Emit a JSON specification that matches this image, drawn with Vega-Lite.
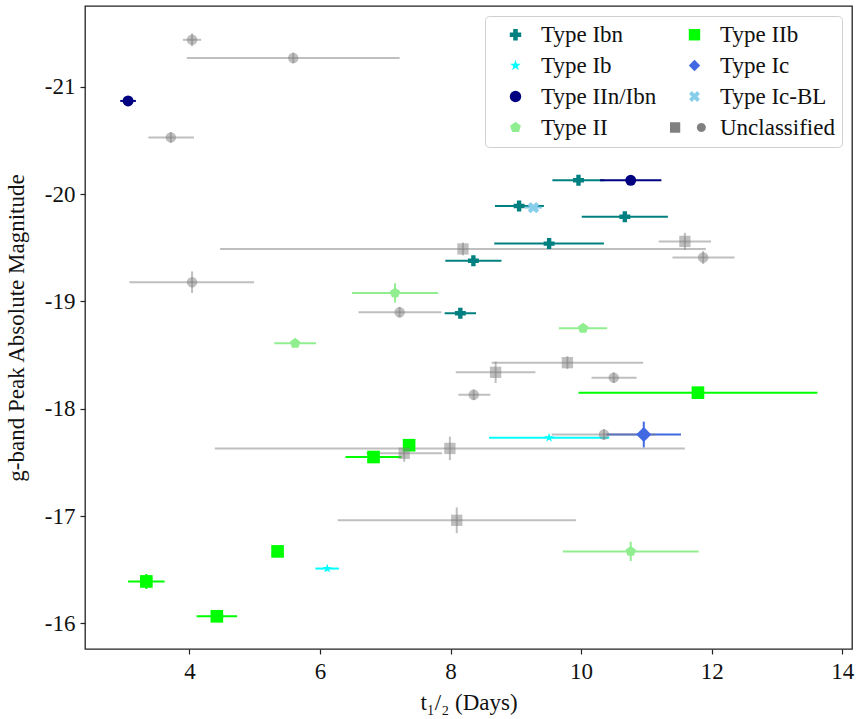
{
  "$schema": "https://vega.github.io/schema/vega-lite/v6.json",
  "width": 767,
  "height": 643,
  "autosize": {"type": "none"},
  "padding": {"left": 85, "top": 6, "right": 5, "bottom": 70},
  "config": {
    "font": "Liberation Serif",
    "view": {"stroke": "#222222", "strokeWidth": 1.3},
    "axis": {"grid": false, "domain": false, "tickColor": "#222222", "tickSize": 5, "tickWidth": 1.2, "labelFont": "Liberation Serif", "labelFontSize": 23, "labelColor": "#111111", "titleFont": "Liberation Serif", "titleFontSize": 23, "titleFontWeight": "normal", "titleColor": "#111111"},
    "legend": {"orient": "top-right", "offset": 10, "columns": 2, "padding": 7, "symbolOffset": 12, "strokeColor": "#d0d0d0", "fillColor": "white", "cornerRadius": 4, "labelFont": "Liberation Serif", "labelFontSize": 23, "labelColor": "#111111", "labelOffset": 14, "rowPadding": 7, "columnPadding": 12, "symbolStrokeWidth": 0, "symbolSize": 130, "labelLimit": 300}
  },
  "data": {"values": [
    {"type": "Type Ibn", "sub": "", "t": 9.96, "tlo": 9.56, "thi": 10.36, "mag": -20.13},
    {"type": "Type Ibn", "sub": "", "t": 9.05, "tlo": 8.68, "thi": 9.43, "mag": -19.89},
    {"type": "Type Ibn", "sub": "", "t": 10.67, "tlo": 10.01, "thi": 11.33, "mag": -19.79},
    {"type": "Type Ibn", "sub": "", "t": 9.51, "tlo": 8.67, "thi": 10.35, "mag": -19.54},
    {"type": "Type Ibn", "sub": "", "t": 8.35, "tlo": 7.92, "thi": 8.78, "mag": -19.38},
    {"type": "Type Ibn", "sub": "", "t": 8.15, "tlo": 7.91, "thi": 8.39, "mag": -18.89},
    {"type": "Type IIn/Ibn", "sub": "", "t": 3.06, "tlo": 2.94, "thi": 3.18, "mag": -20.87},
    {"type": "Type IIn/Ibn", "sub": "", "t": 10.76, "tlo": 10.29, "thi": 11.23, "mag": -20.13},
    {"type": "Type Ic-BL", "sub": "", "t": 9.27, "tlo": 9.14, "thi": 9.40, "mag": -19.875},
    {"type": "Type II", "sub": "", "t": 7.15, "tlo": 6.49, "thi": 7.81, "mag": -19.08, "mlo": -19.17, "mhi": -18.99},
    {"type": "Type II", "sub": "", "t": 10.03, "tlo": 9.66, "thi": 10.40, "mag": -18.75},
    {"type": "Type II", "sub": "", "t": 5.62, "tlo": 5.30, "thi": 5.94, "mag": -18.61},
    {"type": "Type II", "sub": "", "t": 10.76, "tlo": 9.72, "thi": 11.80, "mag": -16.67, "mlo": -16.76, "mhi": -16.58},
    {"type": "Type IIb", "sub": "", "t": 11.79, "tlo": 9.96, "thi": 13.62, "mag": -18.15},
    {"type": "Type IIb", "sub": "", "t": 7.365, "mag": -17.66},
    {"type": "Type IIb", "sub": "", "t": 6.82, "tlo": 6.39, "thi": 7.25, "mag": -17.55},
    {"type": "Type IIb", "sub": "", "t": 5.35, "mag": -16.67},
    {"type": "Type IIb", "sub": "", "t": 3.34, "tlo": 3.06, "thi": 3.62, "mag": -16.39, "mlo": -16.46, "mhi": -16.32},
    {"type": "Type IIb", "sub": "", "t": 4.42, "tlo": 4.11, "thi": 4.73, "mag": -16.065},
    {"type": "Type Ib", "sub": "", "t": 9.51, "tlo": 8.59, "thi": 10.43, "mag": -17.73},
    {"type": "Type Ib", "sub": "", "t": 6.11, "tlo": 5.93, "thi": 6.29, "mag": -16.51},
    {"type": "Type Ic", "sub": "", "t": 10.96, "tlo": 10.39, "thi": 11.53, "mag": -17.76, "mlo": -17.88, "mhi": -17.64},
    {"type": "Unclassified", "sub": "B", "t": 4.04, "tlo": 3.90, "thi": 4.18, "mag": -21.44, "mlo": -21.5, "mhi": -21.38},
    {"type": "Unclassified", "sub": "B", "t": 5.59, "tlo": 3.96, "thi": 7.22, "mag": -21.27, "mlo": -21.32, "mhi": -21.22},
    {"type": "Unclassified", "sub": "B", "t": 3.715, "tlo": 3.37, "thi": 4.07, "mag": -20.53, "mlo": -20.58, "mhi": -20.48},
    {"type": "Unclassified", "sub": "B", "t": 4.04, "tlo": 3.08, "thi": 4.99, "mag": -19.18, "mlo": -19.28, "mhi": -19.08},
    {"type": "Unclassified", "sub": "B", "t": 7.22, "tlo": 6.59, "thi": 7.86, "mag": -18.90, "mlo": -18.95, "mhi": -18.85},
    {"type": "Unclassified", "sub": "B", "t": 11.87, "tlo": 11.40, "thi": 12.35, "mag": -19.41, "mlo": -19.47, "mhi": -19.35},
    {"type": "Unclassified", "sub": "B", "t": 10.50, "tlo": 10.16, "thi": 10.85, "mag": -18.29, "mlo": -18.34, "mhi": -18.24},
    {"type": "Unclassified", "sub": "B", "t": 8.355, "tlo": 8.12, "thi": 8.61, "mag": -18.13, "mlo": -18.18, "mhi": -18.08},
    {"type": "Unclassified", "sub": "B", "t": 10.35, "tlo": 9.55, "thi": 11.15, "mag": -17.76, "mlo": -17.81, "mhi": -17.71},
    {"type": "Unclassified", "sub": "A", "t": 8.19, "tlo": 4.47, "thi": 11.91, "mag": -19.49, "mlo": -19.55, "mhi": -19.43},
    {"type": "Unclassified", "sub": "A", "t": 11.59, "tlo": 11.19, "thi": 11.99, "mag": -19.56, "mlo": -19.64, "mhi": -19.48},
    {"type": "Unclassified", "sub": "A", "t": 9.79, "tlo": 8.63, "thi": 10.95, "mag": -18.43, "mlo": -18.49, "mhi": -18.37},
    {"type": "Unclassified", "sub": "A", "t": 8.69, "tlo": 8.08, "thi": 9.30, "mag": -18.34, "mlo": -18.44, "mhi": -18.24},
    {"type": "Unclassified", "sub": "A", "t": 7.99, "tlo": 4.39, "thi": 11.59, "mag": -17.63, "mlo": -17.74, "mhi": -17.52},
    {"type": "Unclassified", "sub": "A", "t": 7.29, "tlo": 6.71, "thi": 7.87, "mag": -17.585, "mlo": -17.665, "mhi": -17.505},
    {"type": "Unclassified", "sub": "A", "t": 8.095, "tlo": 6.27, "thi": 9.92, "mag": -16.96, "mlo": -17.08, "mhi": -16.84}
  ]},
  "layer": [
    {
      "transform": [{"filter": "isValid(datum.tlo)"}],
      "mark": {"type": "rule", "strokeWidth": 2},
      "encoding": {
        "x": {"field": "tlo", "type": "quantitative", "title": "t₁/₂ (Days)", "scale": {"domain": [2.4, 14.15], "nice": false, "zero": false}, "axis": {"values": [4, 6, 8, 10, 12, 14], "format": "d", "labelPadding": 6, "titlePadding": 8}},
        "x2": {"field": "thi"},
        "y": {"field": "mag", "type": "quantitative", "title": "g-band Peak Absolute Magnitude", "scale": {"domain": [-21.755, -15.76], "reverse": true, "nice": false, "zero": false}, "axis": {"values": [-21, -20, -19, -18, -17, -16], "labelExpr": "datum.value + ''", "labelPadding": 5, "titlePadding": 16}},
        "color": {"field": "type", "type": "nominal", "scale": {"domain": ["Type Ibn", "Type Ib", "Type IIn/Ibn", "Type II", "Type IIb", "Type Ic", "Type Ic-BL", "Unclassified"], "range": ["#008080", "#00ffff", "#000080", "#90ee90", "#00ff00", "#4169e1", "#87ceeb", "#808080"]}, "legend": {"title": null, "encode": {"symbols": {"update": {"fill": {"scale": "color", "field": "value"}, "stroke": {"value": "transparent"}, "shape": {"scale": "shape", "field": "value"}, "size": {"signal": "datum.value == 'Type Ic' ? 260 : datum.value == 'Type IIb' ? 160 : datum.value == 'Type Ic-BL' ? 144 : datum.value == 'Type Ib' ? 100 : datum.value == 'Unclassified' ? 100 : 120"}, "opacity": {"signal": "datum.value == 'Unclassified' ? 0.5 : 1"}, "strokeWidth": {"value": 0}}}}}},
        "opacity": {"condition": {"test": "datum.type == 'Unclassified'", "value": 0.5}, "value": 1}
      }
    },
    {
      "transform": [{"filter": "isValid(datum.mlo)"}],
      "mark": {"type": "rule", "strokeWidth": 2},
      "encoding": {
        "x": {"field": "t", "type": "quantitative", "title": "t₁/₂ (Days)", "scale": {"domain": [2.4, 14.15], "nice": false, "zero": false}},
        "y": {"field": "mlo", "type": "quantitative", "title": "g-band Peak Absolute Magnitude", "scale": {"domain": [-21.755, -15.76], "reverse": true, "nice": false, "zero": false}},
        "y2": {"field": "mhi"},
        "color": {"field": "type", "type": "nominal", "legend": {"title": null}},
        "opacity": {"condition": {"test": "datum.type == 'Unclassified'", "value": 0.5}, "value": 1}
      }
    },
    {
      "transform": [{"filter": "datum.type != 'Unclassified'"}],
      "mark": {"type": "point", "filled": true, "strokeWidth": 0, "opacity": 1},
      "encoding": {
        "x": {"field": "t", "type": "quantitative", "title": "t₁/₂ (Days)", "scale": {"domain": [2.4, 14.15], "nice": false, "zero": false}},
        "y": {"field": "mag", "type": "quantitative", "title": "g-band Peak Absolute Magnitude", "scale": {"domain": [-21.755, -15.76], "reverse": true, "nice": false, "zero": false}},
        "color": {"field": "type", "type": "nominal", "legend": {"title": null}},
        "shape": {"field": "type", "type": "nominal", "legend": {"title": null}, "scale": {"domain": ["Type Ibn", "Type Ib", "Type IIn/Ibn", "Type II", "Type IIb", "Type Ic", "Type Ic-BL", "Unclassified"], "range": ["cross", "M0,-1L0.225,-0.309L0.951,-0.309L0.363,0.118L0.588,0.809L0,0.382L-0.588,0.809L-0.363,0.118L-0.951,-0.309L-0.225,-0.309Z", "circle", "M0,-1L0.951,-0.309L0.588,0.809L-0.588,0.809L-0.951,-0.309Z", "square", "diamond", "M-0.46,-0.955L0,-0.495L0.46,-0.955L0.955,-0.46L0.495,0L0.955,0.46L0.46,0.955L0,0.495L-0.46,0.955L-0.955,0.46L-0.495,0L-0.955,-0.46Z", "M-4.3,-0.9L-2.5,-0.9L-2.5,0.9L-4.3,0.9ZM2,0L1.893,0.4L1.6,0.693L1.2,0.8L0.8,0.693L0.507,0.4L0.4,0L0.507,-0.4L0.8,-0.693L1.2,-0.8L1.6,-0.693L1.893,-0.4Z"]}},
        "size": {"condition": [{"test": "datum.type == 'Type Ic'", "value": 230}, {"test": "datum.type == 'Type IIb'", "value": 160}, {"test": "datum.type == 'Type Ic-BL'", "value": 144}, {"test": "datum.type == 'Type Ib'", "value": 100}], "value": 120}
      }
    },
    {
      "transform": [{"filter": "datum.type == 'Unclassified' && datum.sub == 'A'"}],
      "mark": {"type": "point", "filled": true, "strokeWidth": 0, "shape": "square", "size": 128, "opacity": 0.5, "color": "#808080"},
      "encoding": {
        "x": {"field": "t", "type": "quantitative", "title": "t₁/₂ (Days)", "scale": {"domain": [2.4, 14.15], "nice": false, "zero": false}},
        "y": {"field": "mag", "type": "quantitative", "title": "g-band Peak Absolute Magnitude", "scale": {"domain": [-21.755, -15.76], "reverse": true, "nice": false, "zero": false}}
      }
    },
    {
      "transform": [{"filter": "datum.type == 'Unclassified' && datum.sub == 'B'"}],
      "mark": {"type": "point", "filled": true, "strokeWidth": 0, "shape": "circle", "size": 110, "opacity": 0.5, "color": "#808080"},
      "encoding": {
        "x": {"field": "t", "type": "quantitative", "title": "t₁/₂ (Days)", "scale": {"domain": [2.4, 14.15], "nice": false, "zero": false}},
        "y": {"field": "mag", "type": "quantitative", "title": "g-band Peak Absolute Magnitude", "scale": {"domain": [-21.755, -15.76], "reverse": true, "nice": false, "zero": false}}
      }
    }
  ]
}
